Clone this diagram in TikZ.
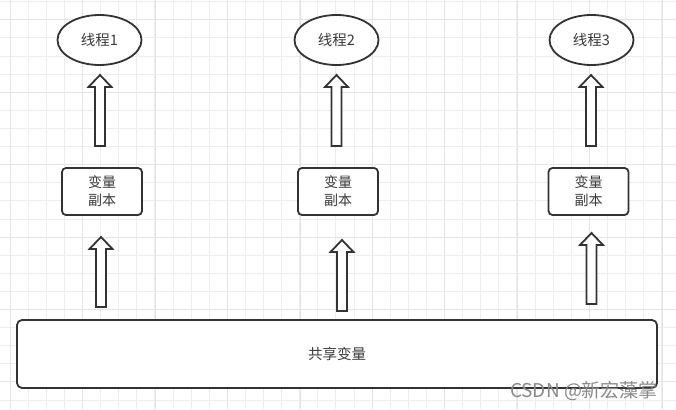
\documentclass[tikz,border=0pt]{standalone}
\usepackage{fontspec}
\setmainfont{Noto Sans CJK SC}
\usetikzlibrary{shapes.geometric}
\definecolor{ink}{HTML}{333333}
\definecolor{txt}{HTML}{3A3A3A}
\definecolor{gridminor}{HTML}{EDEDED}
\definecolor{gridmajor}{HTML}{E4E4E4}
\definecolor{wm}{HTML}{8A8A8A}
\tikzset{
  thread/.style={ellipse, draw=ink, line width=1.8pt, fill=white, minimum width=84pt, minimum height=50pt, inner sep=0pt, font=\fontsize{14.5}{16}\selectfont, text=txt},
  copybox/.style={draw=ink, line width=1.8pt, rounded corners=4pt, fill=white, minimum width=80pt, minimum height=47pt, inner sep=0pt, align=center, font=\fontsize{14}{18}\selectfont, text=txt},
  sharedbox/.style={draw=ink, line width=1.8pt, rounded corners=5pt, fill=white, minimum width=640pt, minimum height=68pt, inner sep=0pt, font=\fontsize{14.5}{16}\selectfont, text=txt},
  blockarrow/.style={draw=ink, line width=1.8pt, fill=white, line join=miter},
}
% #1 x centre, #2 y bottom, #3 y tip
\newcommand\hollowup[3]{%
  \draw[blockarrow] (#1-5,#2) -- (#1-5,#3+12) -- (#1-11.5,#3+12) -- (#1,#3) -- (#1+11.5,#3+12) -- (#1+5,#3+12) -- (#1+5,#2) -- cycle;}
\begin{document}
\begin{tikzpicture}[x=1pt,y=-1pt]
\useasboundingbox (0,0) rectangle (676,409);
\fill[white] (0,0) rectangle (676,409);
% grid
\foreach \i in {0,...,37} {
  \draw[gridminor, line width=0.8pt] (10+18.1*\i,0) -- (10+18.1*\i,409);
}
\foreach \i in {0,...,22} {
  \draw[gridminor, line width=0.8pt] (0,1.7+18.1*\i) -- (676,1.7+18.1*\i);
}
\foreach \i in {0,...,9} {
  \draw[gridmajor, line width=0.8pt] (10.3+72.4*\i,0) -- (10.3+72.4*\i,409);
}
\foreach \i in {0,...,5} {
  \draw[gridmajor, line width=0.8pt] (0,19.7+72.4*\i) -- (676,19.7+72.4*\i);
}
% nodes
\node[thread] (t1) at (99.5,40) {线程1};
\node[thread] (t2) at (336.5,40) {线程2};
\node[thread] (t3) at (591.5,40) {线程3};
\node[copybox] (c1) at (102,191.5) {变量\\副本};
\node[copybox] (c2) at (338,191.5) {变量\\副本};
\node[copybox] (c3) at (588.5,191.5) {变量\\副本};
\node[sharedbox] (s) at (337,354) {共享变量};
% arrows
\hollowup{100}{146}{75}
\hollowup{336.5}{146}{75}
\hollowup{591}{146}{75}
\hollowup{101}{307}{237}
\hollowup{342}{311}{240}
\hollowup{591.5}{304}{233}
% watermark
\node[text=wm, font=\fontsize{19}{21}\selectfont, anchor=center, inner sep=0pt] (w) at (584,391) {CSDN @新宏藻掌};
\end{tikzpicture}
\end{document}
